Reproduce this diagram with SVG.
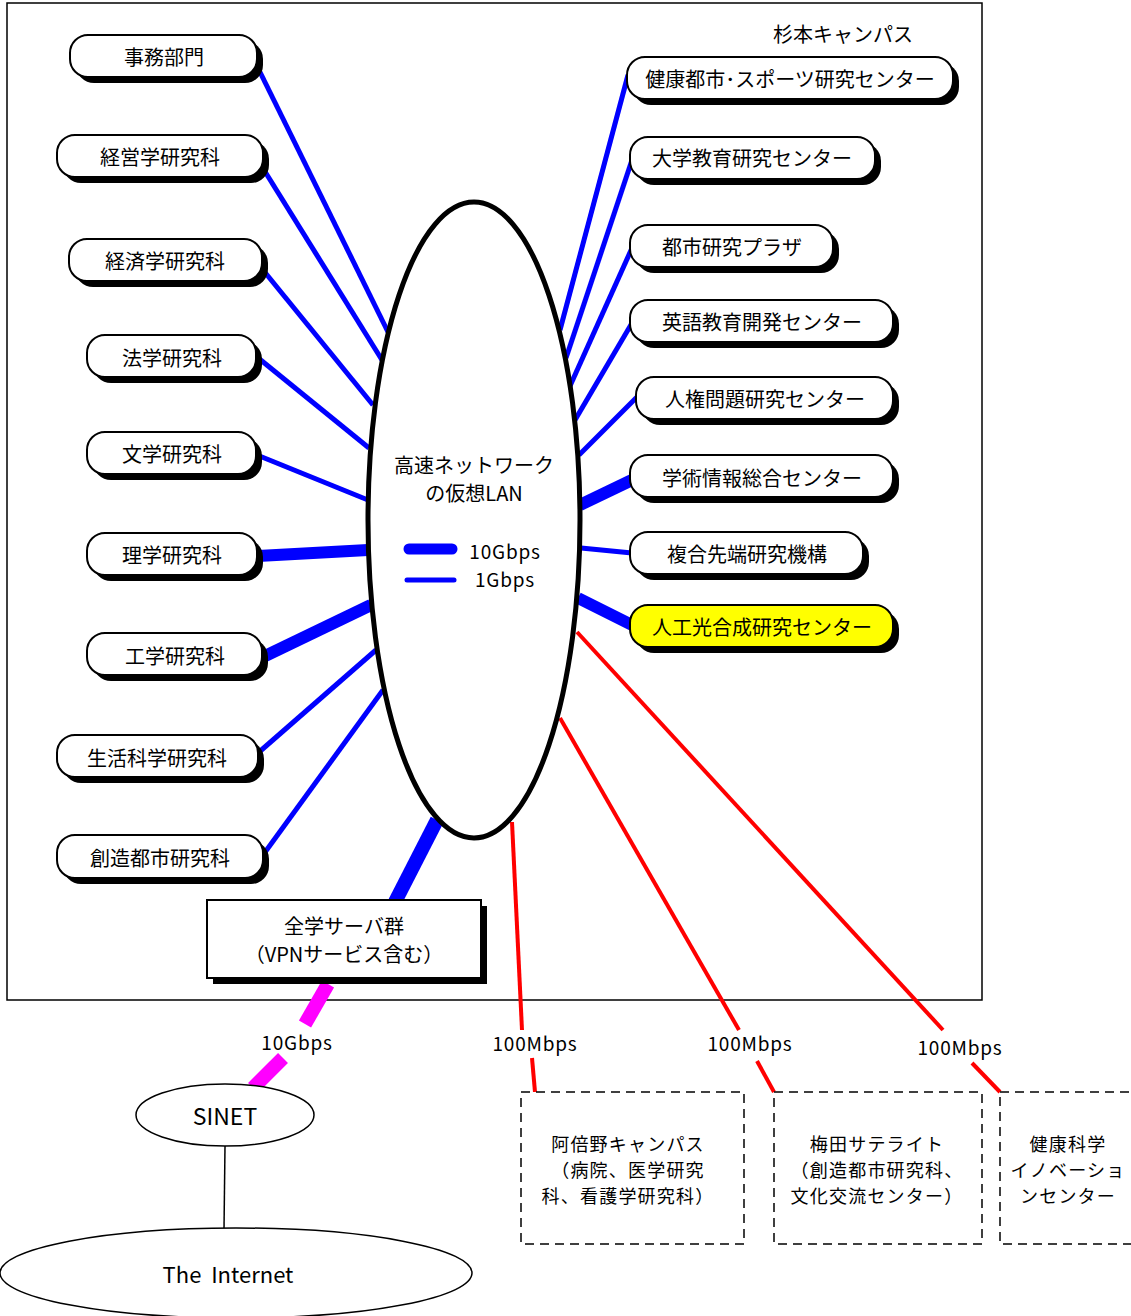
<svg xmlns="http://www.w3.org/2000/svg" width="1131" height="1316" viewBox="0 0 1131 1316">
<style>
text{font-family:"Noto Sans CJK JP","Liberation Sans",sans-serif;fill:#000;text-anchor:middle;dominant-baseline:central}
.lbl{font-size:20px}
.sm{font-size:19px;letter-spacing:0.8px}
.ml{font-size:18px;letter-spacing:1.2px}
.sh{fill:#000}
.bx{fill:#fff;stroke:#000;stroke-width:2}
.yl{fill:#ff0;stroke:#000;stroke-width:2}
.b1{stroke:#00f;stroke-width:5;fill:none}
.b10{stroke:#00f;stroke-width:12;fill:none}
.r{stroke:#f00;stroke-width:4;fill:none}
.dash{fill:#fff;stroke:#000;stroke-width:1.5;stroke-dasharray:9,6}
</style>
<rect x="0" y="0" width="1131" height="1316" fill="#fff"/>
<rect id="campus" x="7" y="3" width="975" height="997" fill="none" stroke="#000" stroke-width="1.5"/>
<text x="843" y="33" class="lbl">杉本キャンパス</text>

<g id="connectors">
<line class="b1" x1="258" y1="68" x2="388" y2="332"/>
<line class="b1" x1="264" y1="170" x2="382" y2="360"/>
<line class="b1" x1="263" y1="270" x2="373" y2="405"/>
<line class="b1" x1="257" y1="357" x2="369" y2="448"/>
<line class="b1" x1="257" y1="455" x2="368" y2="500"/>
<line class="b10" x1="258" y1="556" x2="368" y2="550"/>
<line class="b10" x1="263" y1="657" x2="371" y2="605"/>
<line class="b1" x1="258" y1="753" x2="376" y2="650"/>
<line class="b1" x1="263" y1="855" x2="383" y2="690"/>
<line class="b1" x1="628" y1="75" x2="560" y2="330"/>
<line class="b1" x1="632" y1="160" x2="566" y2="358"/>
<line class="b1" x1="632" y1="248" x2="570" y2="386"/>
<line class="b1" x1="632" y1="323" x2="575" y2="420"/>
<line class="b1" x1="637" y1="397" x2="579" y2="455"/>
<line class="b10" x1="632" y1="480" x2="580" y2="505"/>
<line class="b1" x1="632" y1="553" x2="581" y2="548"/>
<line class="b10" x1="632" y1="625" x2="578" y2="598"/>
<line x1="437" y1="820" x2="395" y2="902" stroke="#00f" stroke-width="14"/>
<line x1="328" y1="984" x2="305" y2="1024" stroke="#f0f" stroke-width="14"/>
<line x1="283" y1="1058" x2="253" y2="1088" stroke="#f0f" stroke-width="14"/>
<line class="r" x1="577" y1="632" x2="943" y2="1030"/>
<line class="r" x1="972" y1="1063" x2="1000" y2="1092"/>
<line class="r" x1="560" y1="718" x2="739" y2="1030"/>
<line class="r" x1="757" y1="1061" x2="774" y2="1092"/>
<line class="r" x1="512" y1="822" x2="522" y2="1030"/>
<line class="r" x1="532" y1="1058" x2="535" y2="1092"/>
<line x1="225" y1="1146" x2="224" y2="1229" stroke="#000" stroke-width="1.5"/>
</g>

<g id="lan">
<ellipse cx="474" cy="520" rx="106" ry="318" fill="#fff" stroke="#000" stroke-width="5"/>
<text x="474" y="464" class="lbl">高速ネットワーク</text>
<text x="474" y="492" class="lbl">の仮想LAN</text>
<line x1="409" y1="549" x2="452" y2="549" stroke="#00f" stroke-width="11" stroke-linecap="round"/>
<line x1="407" y1="580" x2="454" y2="580" stroke="#00f" stroke-width="5" stroke-linecap="round"/>
<text x="505" y="550" class="sm">10Gbps</text>
<text x="505" y="578" class="sm">1Gbps</text>
</g>

<g id="n-jimu"><rect class="sh" x="76" y="41" width="187" height="42" rx="18"/><rect class="bx" x="70" y="35" width="187" height="42" rx="18"/><text x="164" y="56" class="lbl">事務部門</text></g>
<g id="n-keiei"><rect class="sh" x="63" y="141" width="206" height="42" rx="18"/><rect class="bx" x="57" y="135" width="206" height="42" rx="18"/><text x="160" y="156" class="lbl">経営学研究科</text></g>
<g id="n-keizai"><rect class="sh" x="75" y="245" width="193" height="42" rx="18"/><rect class="bx" x="69" y="239" width="193" height="42" rx="18"/><text x="165" y="260" class="lbl">経済学研究科</text></g>
<g id="n-hou"><rect class="sh" x="93" y="341" width="169" height="42" rx="18"/><rect class="bx" x="87" y="335" width="169" height="42" rx="18"/><text x="172" y="357" class="lbl">法学研究科</text></g>
<g id="n-bun"><rect class="sh" x="93" y="438" width="169" height="42" rx="18"/><rect class="bx" x="87" y="432" width="169" height="42" rx="18"/><text x="172" y="453" class="lbl">文学研究科</text></g>
<g id="n-ri"><rect class="sh" x="93" y="539" width="170" height="42" rx="18"/><rect class="bx" x="87" y="533" width="170" height="42" rx="18"/><text x="172" y="554" class="lbl">理学研究科</text></g>
<g id="n-kou"><rect class="sh" x="93" y="639" width="175" height="42" rx="18"/><rect class="bx" x="87" y="633" width="175" height="42" rx="18"/><text x="175" y="655" class="lbl">工学研究科</text></g>
<g id="n-seikatsu"><rect class="sh" x="63" y="741" width="201" height="42" rx="18"/><rect class="bx" x="57" y="735" width="201" height="42" rx="18"/><text x="157" y="757" class="lbl">生活科学研究科</text></g>
<g id="n-souzou"><rect class="sh" x="63" y="841" width="206" height="43" rx="18"/><rect class="bx" x="57" y="835" width="206" height="43" rx="18"/><text x="160" y="857" class="lbl">創造都市研究科</text></g>

<g id="n-kenkou"><rect class="sh" x="633" y="63" width="326" height="42" rx="18"/><rect class="bx" x="627" y="57" width="326" height="42" rx="18"/><text x="790" y="78" class="lbl">健康都市･スポーツ研究センター</text></g>
<g id="n-daigaku"><rect class="sh" x="636" y="143" width="245" height="42" rx="18"/><rect class="bx" x="630" y="137" width="245" height="42" rx="18"/><text x="752" y="157" class="lbl">大学教育研究センター</text></g>
<g id="n-toshi"><rect class="sh" x="636" y="231" width="203" height="42" rx="18"/><rect class="bx" x="630" y="225" width="203" height="42" rx="18"/><text x="732" y="246" class="lbl">都市研究プラザ</text></g>
<g id="n-eigo"><rect class="sh" x="636" y="306" width="263" height="42" rx="18"/><rect class="bx" x="630" y="300" width="263" height="42" rx="18"/><text x="762" y="321" class="lbl">英語教育開発センター</text></g>
<g id="n-jinken"><rect class="sh" x="642" y="383" width="257" height="42" rx="18"/><rect class="bx" x="636" y="377" width="257" height="42" rx="18"/><text x="765" y="398" class="lbl">人権問題研究センター</text></g>
<g id="n-gakujutsu"><rect class="sh" x="636" y="461" width="263" height="42" rx="18"/><rect class="bx" x="630" y="455" width="263" height="42" rx="18"/><text x="762" y="477" class="lbl">学術情報総合センター</text></g>
<g id="n-fukugou"><rect class="sh" x="636" y="538" width="233" height="42" rx="18"/><rect class="bx" x="630" y="532" width="233" height="42" rx="18"/><text x="747" y="553" class="lbl">複合先端研究機構</text></g>
<g id="n-jinkou"><rect class="sh" x="636" y="611" width="263" height="42" rx="18"/><rect class="yl" x="630" y="605" width="263" height="42" rx="18"/><text x="762" y="626" class="lbl">人工光合成研究センター</text></g>

<g id="n-server"><rect class="sh" x="213" y="906" width="274" height="78"/><rect class="bx" x="207" y="900" width="274" height="78"/><text x="344" y="925" class="lbl">全学サーバ群</text><text x="344" y="953" class="lbl">（VPNサービス含む）</text></g>

<g id="labels">
<text x="297" y="1041" class="sm">10Gbps</text>
<text x="535" y="1042" class="sm">100Mbps</text>
<text x="750" y="1042" class="sm">100Mbps</text>
<text x="960" y="1046" class="sm">100Mbps</text>
</g>

<g id="n-sinet"><ellipse cx="225" cy="1115" rx="89" ry="31" fill="#fff" stroke="#000" stroke-width="1.5"/><text x="225" y="1115" style="font-size:23px">SINET</text></g>
<g id="n-internet"><ellipse cx="236" cy="1273" rx="236" ry="45" fill="#fff" stroke="#000" stroke-width="1.5"/><text x="228" y="1273" style="font-size:22px" xml:space="preserve">The  Internet</text></g>

<g id="n-abeno"><rect class="dash" x="521" y="1092" width="223" height="152"/><text x="628" y="1143" class="ml">阿倍野キャンパス</text><text x="628" y="1169" class="ml">（病院、医学研究</text><text x="628" y="1195" class="ml">科、看護学研究科）</text></g>
<g id="n-umeda"><rect class="dash" x="774" y="1092" width="208" height="152"/><text x="877" y="1143" class="ml">梅田サテライト</text><text x="877" y="1169" class="ml">（創造都市研究科、</text><text x="877" y="1195" class="ml">文化交流センター）</text></g>
<g id="n-kenkoukagaku"><rect class="dash" x="1000" y="1092" width="140" height="152"/><text x="1068" y="1143" class="ml">健康科学</text><text x="1068" y="1169" class="ml">イノベーショ</text><text x="1068" y="1195" class="ml">ンセンター</text></g>
</svg>
